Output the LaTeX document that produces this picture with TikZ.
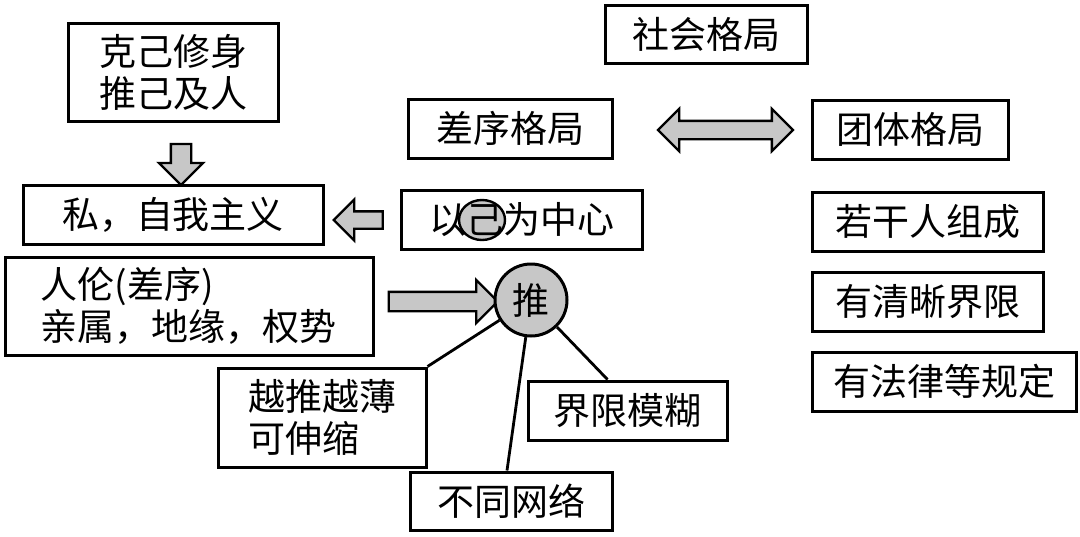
\documentclass[tikz,border=0pt]{standalone}
\usepackage{fontspec}
\setmainfont{Noto Sans CJK SC}
\usetikzlibrary{shapes.arrows}

\definecolor{grau}{gray}{0.78}

\begin{document}
\begin{tikzpicture}[x=1pt,y=-1pt,
	box/.style={draw, line width=3pt, inner sep=0pt, font=\fontsize{37}{42}\selectfont},
	pfeil/.style={single arrow, draw, fill=grau, line width=2.3pt, inner sep=8pt, single arrow head extend=12pt},
	doppelpfeil/.style={double arrow, draw, fill=grau, line width=2.3pt, inner sep=8pt, double arrow head extend=12pt}]

	% Rahmen
	\useasboundingbox (0,0) rectangle (1080,536);

	% Oben
	\node[box, minimum width=202pt, minimum height=58pt] (gesell) at (706,34) {社会格局};
	\node[box, align=center, minimum width=210pt, minimum height=98pt] (keji) at (173,72) {克己修身\\推己及人};

	% Die beiden Formen
	\node[box, minimum width=204pt, minimum height=59pt] (chaxu) at (510,128.5) {差序格局};
	\node[box, minimum width=196pt, minimum height=59pt] (tuanti) at (910,129.5) {团体格局};
	\node[doppelpfeil, minimum height=135pt] (vergleich) at (725.5,130) {};

	% Linke Seite
	\node[box, minimum width=300pt, minimum height=59pt] (si) at (173,214.5) {私，自我主义};
	\node[pfeil, shape border rotate=270, inner sep=9pt, minimum height=41pt] (runter) at (181,159.5) {};

	% Markierung um das Zeichen
	\draw[line width=2.4pt, fill=grau] (482,220) ellipse [x radius=23, y radius=20];
	\node[box, minimum width=241pt, minimum height=59pt] (yiji) at (521.5,219.5) {以己为中心};
	\node[pfeil, shape border rotate=180, inner sep=7.5pt, minimum height=49pt] (links) at (362.5,220) {};

	\node[box, align=left, minimum width=368pt, minimum height=98pt] (renlun) at (189,306) {人伦(差序)\\亲属，地缘，权势};
	\node[pfeil, inner sep=8.5pt, minimum height=109pt] (rechts) at (438.5,301.5) {};

	% Kreis
	\node[box, circle, fill=grau, minimum size=72pt] (tui) at (531,300) {推};

	% Eigenschaften
	\node[box, align=left, minimum width=208pt, minimum height=99pt] (yuetui) at (322,417.5) {越推越薄\\可伸缩};
	\node[box, minimum width=199pt, minimum height=59pt] (jiexian) at (627.5,410.5) {界限模糊};
	\node[box, minimum width=202pt, minimum height=58pt] (butong) at (511,501) {不同网络};

	% Verbindungslinien
	\draw[line width=2.8pt] (tui) -- (yuetui.north east);
	\draw[line width=2.8pt] (tui) -- ([xshift=-4pt]butong.north);
	\draw[line width=2.8pt] (tui) -- ([xshift=-20pt]jiexian.north);

	% Rechte Seite
	\node[box, minimum width=231pt, minimum height=59pt] (ruogan) at (927.5,221.5) {若干人组成};
	\node[box, minimum width=231pt, minimum height=59pt] (qingxi) at (927.5,301.5) {有清晰界限};
	\node[box, minimum width=264pt, minimum height=59pt] (falv) at (944,381.5) {有法律等规定};

\end{tikzpicture}
\end{document}
